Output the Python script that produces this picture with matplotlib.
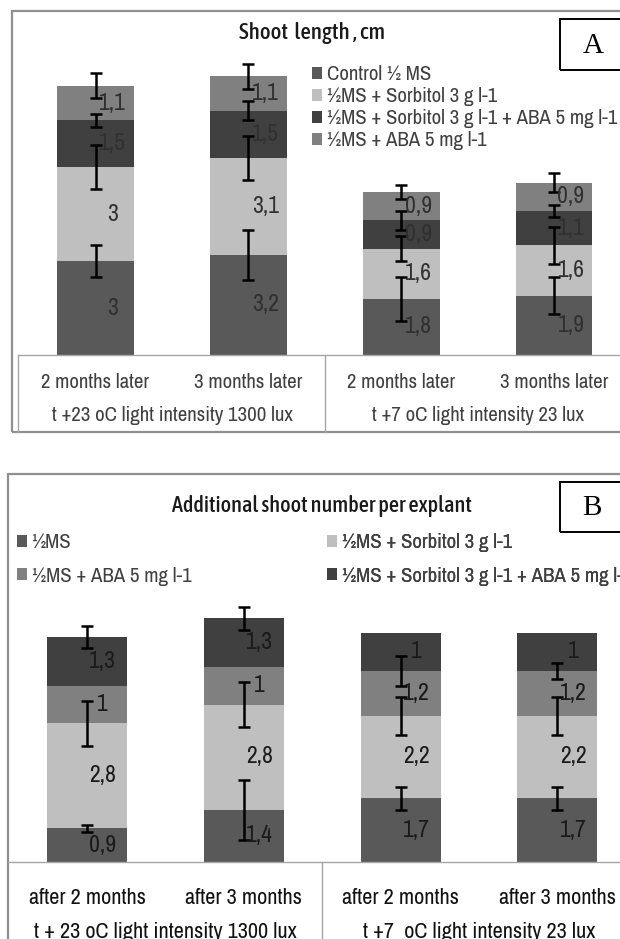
import numpy as np
import matplotlib
matplotlib.use("Agg")
import matplotlib.pyplot as plt
from matplotlib.patches import Rectangle, Patch
from matplotlib.lines import Line2D

plt.rcParams['font.family'] = ['Archivo Narrow', 'Liberation Sans', 'DejaVu Sans']
TITLE_FONT = ['Asap Condensed', 'Archivo Narrow', 'Liberation Sans', 'DejaVu Sans']

# ---------------- data: panel A (shoot length, cm) ----------------
a_ticks = ["2 months later", "3 months later", "2 months later", "3 months later"]
a_groups = ["t +23 oC light intensity 1300 lux", "t +7 oC light intensity 23 lux"]
a_names = ["Control ½ MS", "½MS + Sorbitol 3 g l-1",
           "½MS + Sorbitol 3 g l-1 + ABA 5 mg l-1", "½MS + ABA 5 mg l-1"]
a_control = [3.0, 3.2, 1.8, 1.9]
a_sorb = [3.0, 3.1, 1.6, 1.6]
a_sorb_aba = [1.5, 1.5, 0.9, 1.1]
a_aba = [1.1, 1.1, 0.9, 0.9]
a_control_err = [0.5, 0.8, 0.7, 0.6]
a_sorb_err = [0.7, 0.7, 0.4, 0.6]
a_sorb_aba_err = [0.2, 0.3, 0.3, 0.2]
a_aba_err = [0.4, 0.4, 0.22, 0.3]
a_labels = [["3", "3,2", "1,8", "1,9"], ["3", "3,1", "1,6", "1,6"],
            ["1,5", "1,5", "0,9", "1,1"], ["1,1", "1,1", "0,9", "0,9"]]

# ---------------- data: panel B (additional shoot number) ----------------
b_ticks = ["after 2 months", "after 3 months", "after 2 months", "after 3 months"]
b_groups = ["t + 23 oC light intensity 1300 lux", "t +7  oC light intensity 23 lux"]
b_names = ["½MS", "½MS + Sorbitol 3 g l-1", "½MS + ABA 5 mg l-1",
           "½MS + Sorbitol 3 g l-1 + ABA 5 mg l-1"]
b_ms = [0.9, 1.4, 1.7, 1.7]
b_sorb = [2.8, 2.8, 2.2, 2.2]
b_aba = [1.0, 1.0, 1.2, 1.2]
b_sorb_aba = [1.3, 1.3, 1.0, 1.0]
b_ms_err = [0.1, 0.8, 0.3, 0.3]
b_sorb_err = [0.6, 0.6, 0.5, 0.5]
b_aba_err = [np.nan, np.nan, 0.4, 0.22]
b_sorb_aba_err = [0.3, 0.3, np.nan, np.nan]
b_labels = [["0,9", "1,4", "1,7", "1,7"], ["2,8", "2,8", "2,2", "2,2"],
            ["1", "1", "1,2", "1,2"], ["1,3", "1,3", "1", "1"]]

C_MS = "#595959"
C_SORB = "#bfbfbf"
C_SA = "#404040"
C_ABA = "#808080"

W, H = 620, 939
fig = plt.figure(figsize=(W / 100, H / 100), dpi=100)


def fx(x):
    return x / W


def fy(y):
    return 1 - y / H


def fline(x0, y0, x1, y1, color="#a6a6a6", lw=1.0):
    fig.add_artist(Line2D([fx(x0), fx(x1)], [fy(y0), fy(y1)], color=color, lw=lw,
                          transform=fig.transFigure))


def frect(x0, y0, x1, y1, color, lw):
    fig.add_artist(Rectangle((fx(x0), fy(y1)), fx(x1) - fx(x0), fy(y0) - fy(y1),
                             fill=False, edgecolor=color, lw=lw, transform=fig.transFigure))


def stacked(ax, series, errs, colors, labels, width, lab_dx, lab_color, fs):
    x = np.arange(4)
    bottom = np.zeros(4)
    for vals, err, col, labs in zip(series, errs, colors, labels):
        vals = np.array(vals, dtype=float)
        ax.bar(x, vals, width, bottom=bottom, color=col, edgecolor="none", zorder=2)
        top = bottom + vals
        ax.errorbar(x, top, yerr=np.array(err, dtype=float), fmt="none", ecolor="black",
                    elinewidth=1.8, capsize=4.2, capthick=1.8, zorder=4)
        for i in range(4):
            ax.text(x[i] + lab_dx, bottom[i] + vals[i] / 2, labs[i], ha="center",
                    va="center", fontsize=fs, color=lab_color, zorder=5)
        bottom = top


# ================= Panel A =================
frect(12, 11, 700, 432, "#8f8f8f", 1.6)
axA = fig.add_axes([fx(19.1), fy(355), fx(630.6) - fx(19.1), 313 / H])
axA.set_xlim(-0.5, 3.5)
axA.set_ylim(0, 10)
axA.axis("off")
stacked(axA, [a_control, a_sorb, a_sorb_aba, a_aba],
        [a_control_err, a_sorb_err, a_sorb_aba_err, a_aba_err],
        [C_MS, C_SORB, C_SA, C_ABA], a_labels, 0.5, 0.11, "#303030", 17)
tr = axA.get_xaxis_transform()
for i, t in enumerate(a_ticks):
    axA.text(i, (355 - 382) / 313, t, transform=tr, ha="center", va="center",
             fontsize=15, color="#404040", clip_on=False)
for g, t in enumerate(a_groups):
    axA.text(0.5 + 2 * g, (355 - 415) / 313, t, transform=tr, ha="center", va="center",
             fontsize=15, color="#404040", clip_on=False)
fline(18, 355, 700, 355)
fline(18, 355, 18, 432)
fline(325, 355, 325, 432)
fig.text(fx(312), fy(33), "Shoot  length , cm", ha="center", va="center",
         fontsize=16.5, fontweight=500, family=TITLE_FONT, color="#1a1a1a")
frect(560, 19, 640, 70, "black", 1.4)
fig.text(fx(593), fy(46), "A", ha="center", va="center", fontsize=21,
         family=["Liberation Serif", "DejaVu Serif"], color="black")
hA = [Patch(facecolor=c, edgecolor="none") for c in [C_MS, C_SORB, C_SA, C_ABA]]
legA = axA.legend(hA, a_names, loc="upper left", bbox_to_anchor=(fx(312), fy(65)),
                  bbox_transform=fig.transFigure, frameon=False, fontsize=15,
                  handlelength=0.5, handleheight=0.5, handletextpad=0.2,
                  labelspacing=0.15, borderpad=0, borderaxespad=0)
for t in legA.get_texts():
    t.set_color("#404040")

# ================= Panel B =================
frect(8, 474, 700, 1000, "#8f8f8f", 1.6)
axB = fig.add_axes([fx(8.6), fy(862), fx(635.8) - fx(8.6), 300 / H])
axB.set_xlim(-0.5, 3.5)
axB.set_ylim(0, 8)
axB.axis("off")
stacked(axB, [b_ms, b_sorb, b_aba, b_sorb_aba],
        [b_ms_err, b_sorb_err, b_aba_err, b_sorb_aba_err],
        [C_MS, C_SORB, C_ABA, C_SA], b_labels, 0.51, 0.1, "#1a1a1a", 17)
tr = axB.get_xaxis_transform()
for i, t in enumerate(b_ticks):
    axB.text(i, (862 - 898) / 300, t, transform=tr, ha="center", va="center",
             fontsize=16, color="#111111", clip_on=False)
for g, t in enumerate(b_groups):
    axB.text(0.5 + 2 * g, (862 - 932) / 300, t, transform=tr, ha="center", va="center",
             fontsize=16, color="#111111", clip_on=False)
fline(8, 862, 700, 862)
fline(322, 862, 322, 1000)
fig.text(fx(322), fy(506), "Additional shoot number per explant", ha="center",
         va="center", fontsize=16, fontweight=500, family=TITLE_FONT, color="#1a1a1a")
frect(560, 482, 640, 532, "black", 1.4)
fig.text(fx(592), fy(508), "B", ha="center", va="center", fontsize=21,
         family=["Liberation Serif", "DejaVu Serif"], color="black")
colsB = [C_MS, C_SORB, C_ABA, C_SA]
for col, idxs, x0 in [(0, [0, 2], 17), (1, [1, 3], 327)]:
    hB = [Patch(facecolor=colsB[k], edgecolor="none") for k in idxs]
    leg = axB.legend(hB, [b_names[k] for k in idxs], loc="upper left",
                     bbox_to_anchor=(fx(x0), fy(533)), bbox_transform=fig.transFigure,
                     frameon=False, fontsize=15, handlelength=0.5, handleheight=0.5,
                     handletextpad=0.2, labelspacing=0.7, borderpad=0, borderaxespad=0)
    for t in leg.get_texts():
        t.set_color("#404040")
    axB.add_artist(leg)

fig.savefig("out.png", dpi=100)
